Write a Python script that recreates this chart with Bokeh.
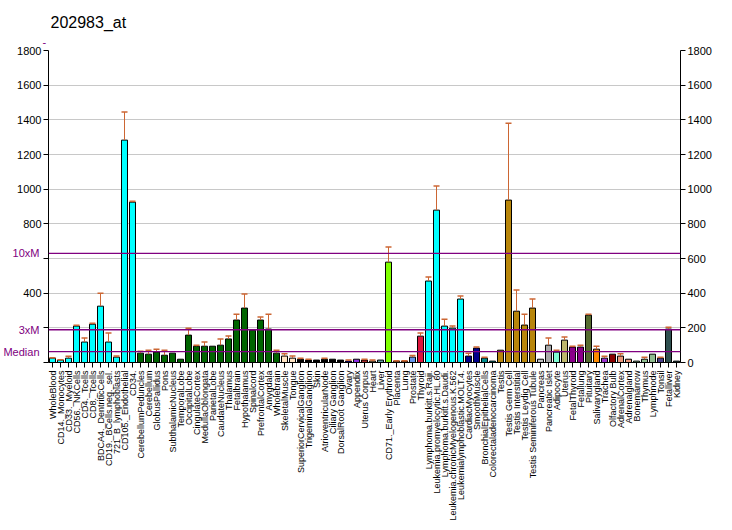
import math
from bokeh.plotting import figure
from bokeh.models import (FactorRange, Range1d, LinearAxis, FixedTicker, Span, Title,
                          ColumnDataSource)
from bokeh.embed import file_html
from bokeh.resources import INLINE

title_text = "202983_at"

labels = [
    "WholeBlood", "CD14._Monocytes", "CD33._Myeloid", "CD56._NKCells", "CD4._Tcells",
    "CD8._Tcells", "BDCA4._DentriticCells", "CD19._BCells.neg._sel.", "721_B_lymphoblasts",
    "CD105._Endothelial", "CD34.", "CerebellumPeduncles", "Cerebellum", "GlobusPallidus",
    "Pons", "SubthalamicNucleus", "TemporalLobe", "OccipitalLobe", "CingulateCortex",
    "MedullaOblongata", "ParietalLobe", "CaudateNucleus", "Thalamus", "Fetalbrain",
    "Hypothalamus", "Spinalcord", "PrefrontalCortex", "Amygdala", "Wholebrain",
    "SkeletalMuscle", "Tongue", "SuperiorCervicalGanglion", "TrigeminalGanglion", "Skin",
    "AtrioventricularNode", "Ciliary Ganglion", "DorsalRoot Ganglion", "Ovary", "Appendix",
    "Uterus Corpus", "Heart", "Liver", "CD71._Early Erythroid", "Placenta", "Lung",
    "Prostate", "Thyroid", "Lymphoma.burkitt.s.Raji.", "Leukemia.promyelocytic.HL.60",
    "Lymphoma.burkitt.s.Daudi.", "Leukemia.chronicMyelogenous.K.562",
    "Leukemialymphoblastic.MOLT.4.", "CardiacMyocytes", "SmoothMuscle",
    "BronchialEpithelialCells", "Colorectaladenocarcinoma", "Testis", "Testis Germ Cell",
    "Testis Interstitial", "Testis Leydig Cell", "Testis Seminiferous Tubule", "Pancreas",
    "Pancreatic Islet", "Adipocyte", "Uterus", "FetalThyroid", "Fetallung", "Pituitary",
    "Salivarygland", "Trachea", "Olfactory Bulb", "AdrenalCortex", "Adrenalgland",
    "Bonemarrow", "Thymus", "Lymphnode", "Tonsil", "Fetalliver", "Kidney",
]

values = [
    25, 14, 25, 210, 118, 221, 325, 118, 31, 1283, 925,
    54, 48, 60, 42, 54, 19, 158, 94, 94, 94, 100, 136, 245, 314, 186, 245, 193, 54,
    37, 25, 19, 14, 14, 19, 19, 14, 8, 19, 14, 8, 14, 579, 8, 8, 31, 152,
    470, 879, 210, 198, 366, 37, 83, 25, 8,
    71, 937, 296, 216, 314, 19, 100, 60, 129, 89, 89, 273, 77, 25, 48, 37, 19,
    8, 19, 48, 25, 193, 8,
]

err_top = [
    28, 16, 36, 215, 142, 227, 400, 170, 37, 1445, 931,
    65, 71, 77, 71, 54, 19, 198, 100, 118, 94, 136, 153, 279, 395, 186, 262, 279, 71,
    50, 37, 25, 19, 14, 25, 19, 14, 14, 19, 19, 14, 14, 666, 10, 10, 41, 170,
    493, 1018, 250, 210, 383, 54, 89, 31, 8,
    71, 1381, 418, 279, 366, 19, 141, 71, 147, 94, 100, 279, 94, 36, 48, 50, 19,
    8, 31, 48, 31, 204, 8,
]

group_colors = (
    ["#00FFFF"] * 11 + ["#006400"] * 18 + ["#FFE4C4"] * 2 + ["#000000"] * 6 +
    ["#0000CD", "#8A2BE2", "#A52A2A", "#DEB887", "#5F9EA0", "#7FFF00",
     "#D2691E", "#D2691E", "#6495ED", "#DC143C"] +
    ["#00FFFF"] * 5 + ["#00008B"] * 2 + ["#008B8B"] * 2 + ["#B8860B"] * 5 +
    ["#BEBEBE", "#A9A9A9", "#7FFFD4", "#BDB76B", "#8B008B", "#8B008B", "#556B2F",
     "#FF8C00", "#9932CC", "#8B0000", "#E9967A", "#E9967A", "#8FBC8F", "#8FBC8F",
     "#8FBC8F", "#483D8B", "#2F4F4F", "#2F4F4F"]
)

median_value = 63
ref_levels = [median_value, 3 * median_value, 10 * median_value]
ref_names = ["Median", "3xM", "10xM"]
y_ticks = [0, 200, 400, 600, 800, 1000, 1200, 1400, 1600, 1800]

FONT = "Liberation Sans"
PURPLE = "#800080"
ERR = "#CC6633"

p = figure(x_range=FactorRange(factors=labels), y_range=Range1d(0, 1800),
           frame_width=632, frame_height=312, output_backend="svg",
           toolbar_location=None, min_border_left=44, min_border_right=39,
           min_border_top=50, min_border_bottom=150)
p.outline_line_color = None
p.background_fill_color = "white"
p.xgrid.visible = False
p.ygrid.ticker = FixedTicker(ticks=y_ticks[1:])
p.ygrid.grid_line_color = "#C8C8C8"

src = ColumnDataSource(dict(x=labels, top=values, color=group_colors))
p.vbar(x="x", top="top", width=0.75, fill_color="color", line_color="black",
       line_width=1, source=src)

ex = [l for l, v, e in zip(labels, values, err_top) if e > v]
ev = [v for l, v, e in zip(labels, values, err_top) if e > v]
ee = [e for l, v, e in zip(labels, values, err_top) if e > v]
p.segment(x0=ex, y0=ev, x1=ex, y1=ee, line_color=ERR, line_width=1)
p.dash(x=ex, y=ee, size=6, line_color=ERR, line_width=1.5)

for lvl in ref_levels:
    p.add_layout(Span(location=lvl, dimension="width", line_color=PURPLE, line_width=1.3))

# x axis
xa = p.xaxis[0]
xa.major_label_orientation = math.pi / 2
xa.major_label_text_font = FONT
xa.major_label_text_font_size = "9px"
xa.major_label_text_color = "black"
xa.major_label_standoff = 3
xa.major_tick_out = 5
xa.major_tick_in = 0
xa.axis_line_color = "black"
xa.major_tick_line_color = "black"

# left axis (numbers)
ya = p.yaxis[0]
ya.ticker = FixedTicker(ticks=y_ticks)
ya.major_label_overrides = {0: "", 200: "", 600: ""}
ya.minor_tick_line_color = None
ya.major_tick_out = 5
ya.major_tick_in = 0
ya.major_label_standoff = 2
ya.major_label_text_font = FONT
ya.major_label_text_font_size = "11px"
ya.major_label_text_color = "black"
ya.axis_line_color = "black"

# left axis (reference levels, purple), pulled in over the numbers column
pa = LinearAxis(ticker=FixedTicker(ticks=ref_levels),
                major_label_overrides=dict(zip(ref_levels, ref_names)))
pa.axis_line_color = None
pa.major_tick_line_color = None
pa.minor_tick_line_color = None
pa.major_tick_out = 0
pa.major_tick_in = 0
pa.major_label_standoff = -25
pa.major_label_text_font = FONT
pa.major_label_text_font_size = "11px"
pa.major_label_text_color = PURPLE
p.add_layout(pa, "left")

# right axis
ra = LinearAxis(ticker=FixedTicker(ticks=y_ticks))
ra.minor_tick_line_color = None
ra.major_tick_out = 5
ra.major_tick_in = 0
ra.major_label_standoff = 2
ra.major_label_text_font = FONT
ra.major_label_text_font_size = "11px"
ra.major_label_text_color = "black"
p.add_layout(ra, "right")

# titles
p.title.text = title_text
p.title.text_color = "black"
p.title.text_font = FONT
p.title.text_font_size = "16px"
p.title.text_font_style = "normal"
p.title.align = "left"
p.title.offset = 2
p.title.standoff = 0
p.add_layout(Title(text="-", text_font=FONT, text_font_size="11px",
                   text_font_style="normal", text_color=PURPLE, align="left",
                   offset=-6, standoff=10), "above")

open("out.html", "w").write(file_html(p, INLINE))
